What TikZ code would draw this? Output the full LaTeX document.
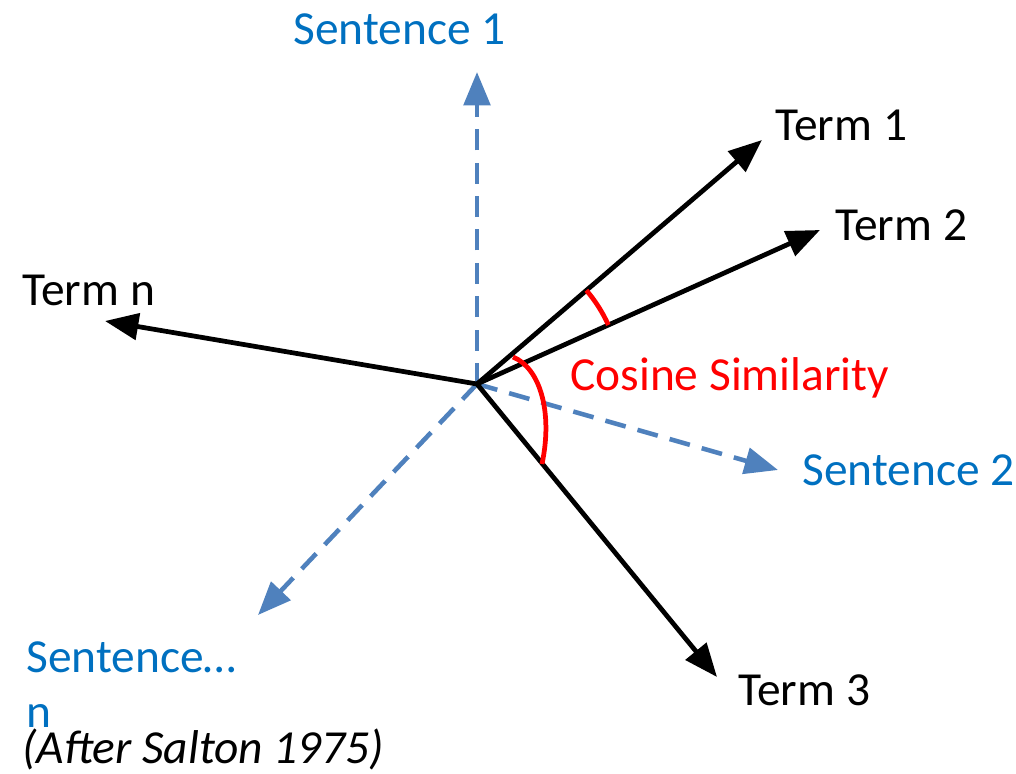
\documentclass[tikz,border=0pt]{standalone}
\usepackage{fontspec}
\setmainfont{Carlito}
\usepackage{xcolor}
\usetikzlibrary{arrows.meta}

\definecolor{axisblue}{HTML}{4F81BD}
\definecolor{textblue}{HTML}{0070C0}

\begin{document}
\begin{tikzpicture}[
    x=0.02cm, y=-0.02cm,
    term/.style={->, line width=2.7pt, draw=black, >={Triangle[length=19pt, width=15pt]}},
    sentence/.style={->, line width=2.6pt, draw=axisblue, dash pattern=on 12pt off 7pt, >={Triangle[length=19pt, width=15pt]}},
    termlabel/.style={anchor=base west, inner sep=0pt, font=\fontsize{27}{32}\selectfont, text=black},
    sentlabel/.style={anchor=base west, inner sep=0pt, font=\fontsize{27}{32}\selectfont, text=textblue},
    simarc/.style={line width=2.7pt, draw=red}
]
\useasboundingbox (0,0) rectangle (1016,773);

% Origin and arrow tips
\coordinate (O) at (477,384);
\coordinate (s1) at (477,72);
\coordinate (s2) at (778,470);
\coordinate (sn) at (258,615);
\coordinate (t1) at (762,140);
\coordinate (t2) at (820,230);
\coordinate (t3) at (717,677);
\coordinate (tn) at (105,321);

% Sentence axes
\draw[sentence] (O) -- (s1);
\draw[sentence] (O) -- (s2);
\draw[sentence] (O) -- (sn);

% Term vectors
\draw[term] (O) -- (t1);
\draw[term] (O) -- (t2);
\draw[term] (O) -- (t3);
\draw[term] (O) -- (tn);

% Angles
\draw[simarc] (O) ++(-40.6:144) arc[start angle=-40.6, end angle=-24.2, radius=144];
\draw[simarc] (513,357) .. controls (540,368) and (553,412) .. (542,464);

% Labels
\node[sentlabel] (lbls1) at (293,45) {Sentence 1};
\node[termlabel] (lblt1) at (775,141) {Term 1};
\node[termlabel] (lblt2) at (835,241) {Term 2};
\node[termlabel] (lbltn) at (22,305) {Term n};
\node[anchor=base west, inner sep=0pt, font=\fontsize{27}{32}\selectfont, text=red] (lblcos) at (570,390) {Cosine Similarity};
\node[sentlabel] (lbls2) at (802,485) {Sentence 2};
\node[termlabel] (lblt3) at (738,705) {Term 3};
\node[sentlabel] (lblsn) at (26,672) {Sentence…};
\node[sentlabel] (lblsnn) at (26,727) {n};
\node[termlabel, font=\fontsize{27}{32}\selectfont\itshape] (lblsrc) at (22,763) {(After Salton 1975)};

\end{tikzpicture}
\end{document}
